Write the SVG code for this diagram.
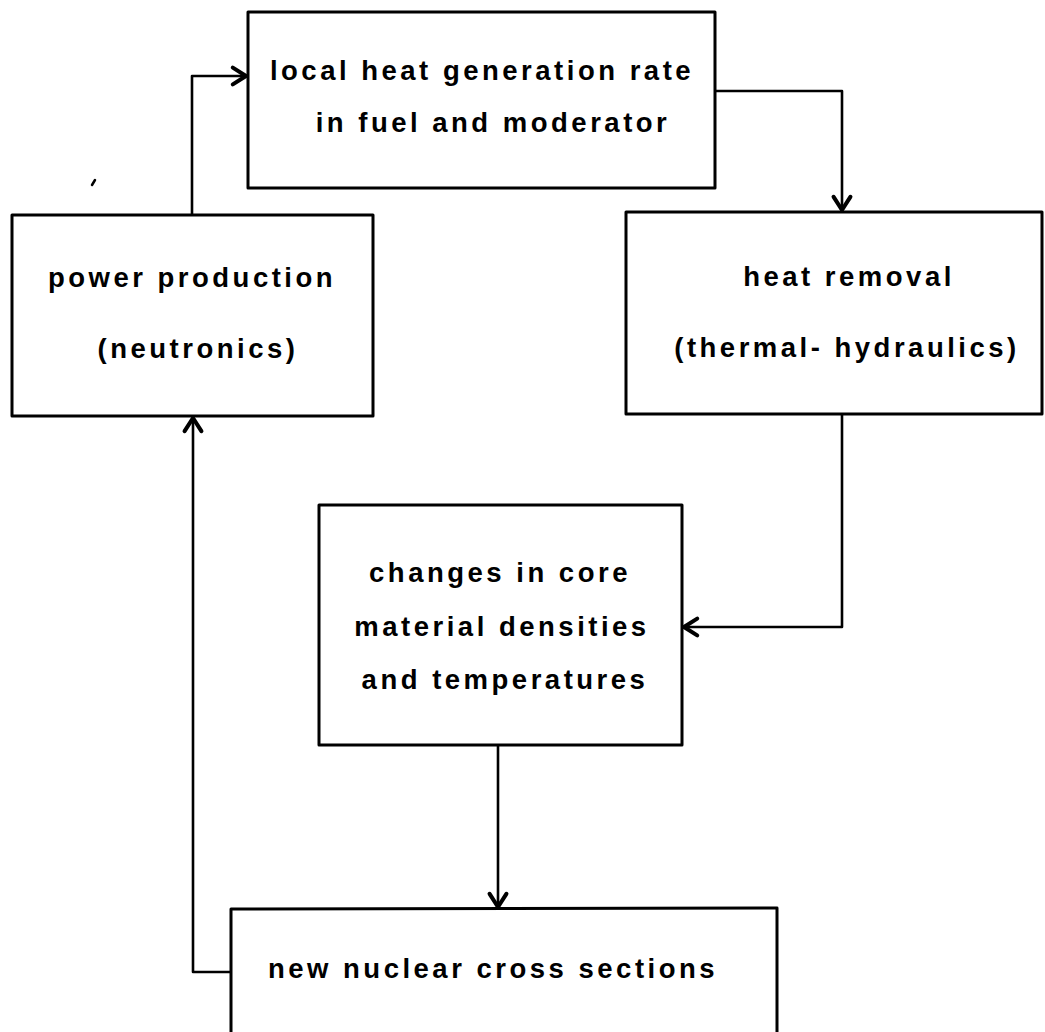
<svg xmlns="http://www.w3.org/2000/svg" width="1045" height="1032" viewBox="0 0 1045 1032">
<defs>
<style>
.box{fill:none;stroke:#000;stroke-width:3;stroke-linejoin:round}
.con{fill:none;stroke:#000;stroke-width:2.6;stroke-linejoin:round}
.t{font-family:"Liberation Sans",Arial,sans-serif;font-size:27.5px;font-weight:bold;letter-spacing:3.5px;fill:#000;text-anchor:middle}
</style>
<marker id="ah" markerUnits="userSpaceOnUse" markerWidth="24" markerHeight="24" viewBox="-14 -10 16 20" refX="0" refY="0" orient="auto">
<path d="M-11,-7 L0,0 L-11,7" fill="none" stroke="#000" stroke-width="3.4" stroke-linecap="round" stroke-linejoin="round"/>
</marker>
</defs>
<rect width="1045" height="1032" fill="#fff"/>
<g id="connectors">
<path class="con" d="M192,215 L192,76 L246,76" marker-end="url(#ah)"/>
<path class="con" d="M715,91 L842,91 L842,210" marker-end="url(#ah)"/>
<path class="con" d="M842,414 L842,627 L684,627" marker-end="url(#ah)"/>
<path class="con" d="M498,745 L498,907" marker-end="url(#ah)"/>
<path class="con" d="M231,972 L193,972 L193,418" marker-end="url(#ah)"/>
</g>
<g id="node-heat-generation">
<rect class="box" x="248" y="12" width="467" height="176"/>
<text class="t" x="482" y="80">local heat generation rate</text>
<text class="t" x="493" y="132">in fuel and moderator</text>
</g>
<g id="node-power-production">
<rect class="box" x="12" y="215" width="361" height="201"/>
<text class="t" x="192" y="287">power production</text>
<text class="t" x="198" y="358">(neutronics)</text>
</g>
<g id="node-heat-removal">
<rect class="box" x="626" y="212" width="416" height="202"/>
<text class="t" x="849" y="286">heat removal</text>
<text class="t" x="847" y="357">(thermal- hydraulics)</text>
</g>
<g id="node-changes">
<rect class="box" x="319" y="505" width="363" height="240"/>
<text class="t" x="500" y="582">changes in core</text>
<text class="t" x="502" y="636">material densities</text>
<text class="t" x="505" y="689">and temperatures</text>
</g>
<g id="node-cross-sections">
<path class="box" d="M231,1034 L231,909 L777,908 L777,1034"/>
<text class="t" x="493" y="978">new nuclear cross sections</text>
</g>
<path d="M92,185 L95,180" stroke="#000" stroke-width="2.5" stroke-linecap="round"/>
</svg>
